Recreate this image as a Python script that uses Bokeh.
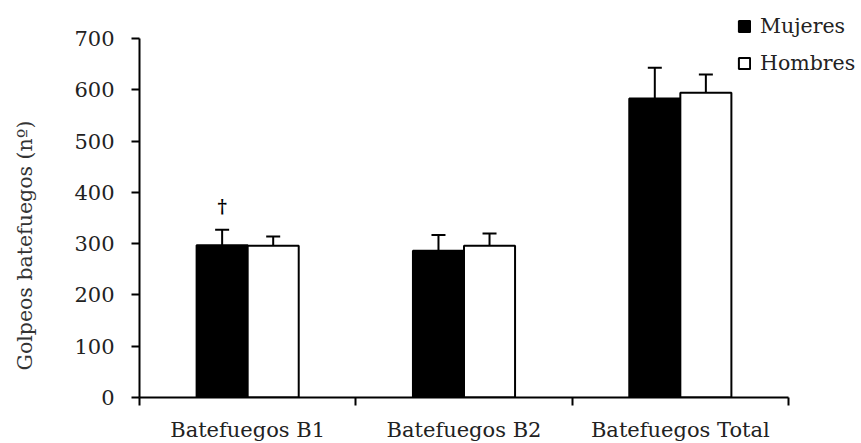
from bokeh.plotting import figure
from bokeh.models import ColumnDataSource, FixedTicker, Whisker, TeeHead, Legend, LegendItem, Range1d, Title
from bokeh.core.properties import value
from bokeh.embed import file_html
from bokeh.resources import INLINE

categories = ["Batefuegos B1", "Batefuegos B2", "Batefuegos Total"]
mujeres = [297, 286, 583]
mujeres_err = [30, 31, 60]
hombres = [296, 296, 594]
hombres_err = [18, 24, 36]
marks = ["†", "", ""]
y_ticks = [0, 100, 200, 300, 400, 500, 600, 700]
y_label = "Golpeos batefuegos (nº)"

SERIF = "DejaVu Serif"

idx = list(range(len(categories)))
off = 0.118
w = 0.236
xm = [i + 0.5 - off for i in idx]
xh = [i + 0.5 + off for i in idx]

src_m = ColumnDataSource(dict(x=xm, top=mujeres, up=[v + e for v, e in zip(mujeres, mujeres_err)], mark=marks))
src_h = ColumnDataSource(dict(x=xh, top=hombres, up=[v + e for v, e in zip(hombres, hombres_err)]))

# frame spans to the right and top edges so the legend can sit there; axes are bounded
FW, FH = 722, 397
x_end = 3 * FW / 649.0
y_end = 700 * FH / 359.0

p = figure(width=861, height=443, output_backend="svg", toolbar_location=None,
           x_range=Range1d(0, x_end), y_range=Range1d(0, y_end),
           min_border_left=139, min_border_right=0, min_border_top=0, min_border_bottom=46,
           frame_width=FW, frame_height=FH)
p.outline_line_color = None
p.grid.visible = False
p.background_fill_color = "white"
p.border_fill_color = "white"

rm = p.vbar(x="x", top="top", width=w, bottom=0, source=src_m, fill_color="black", line_color="black", line_width=2)
rh = p.vbar(x="x", top="top", width=w, bottom=0, source=src_h, fill_color="white", line_color="black", line_width=2)

for src in (src_m, src_h):
    wk = Whisker(base="x", upper="up", lower="top", source=src, dimension="height",
                 line_color="black", line_width=2,
                 upper_head=TeeHead(size=14, line_color="black", line_width=2), lower_head=None)
    p.add_layout(wk)

p.text(x="x", y="up", text="mark", source=src_m, text_align="center", text_baseline="bottom",
       y_offset=-13, text_font=value(SERIF), text_font_size="18px", text_font_style="bold", text_color="black")

# axes
xa = p.xaxis[0]
xa.bounds = (0, 3)
xa.ticker = FixedTicker(ticks=[i + 0.5 for i in idx], minor_ticks=[0, 1, 2, 3])
xa.major_label_overrides = {i + 0.5: c for i, c in zip(idx, categories)}
xa.major_tick_out = 0
xa.major_tick_in = 0
xa.minor_tick_out = 8
xa.minor_tick_in = 0
xa.minor_tick_line_width = 2
xa.minor_tick_line_color = "black"
xa.axis_line_width = 2
xa.axis_line_color = "black"
xa.major_label_text_font = SERIF
xa.major_label_text_font_size = "21px"
xa.major_label_text_color = "#222222"
xa.major_label_standoff = 12

ya = p.yaxis[0]
ya.bounds = (0, 700)
ya.ticker = FixedTicker(ticks=y_ticks, minor_ticks=[])
ya.major_tick_out = 8
ya.major_tick_in = 0
ya.major_tick_line_width = 2
ya.major_tick_line_color = "black"
ya.axis_line_width = 2
ya.axis_line_color = "black"
ya.major_label_text_font = SERIF
ya.major_label_text_font_size = "21px"
ya.major_label_text_color = "#222222"
ya.major_label_standoff = 17

# blank spacer panel between the tick labels and the y title
spacer = Title(text=" ", standoff=32, text_font_size="1px")
p.add_layout(spacer, "left")

ytitle = Title(text=y_label, align="left", offset=27, standoff=0,
               text_font=SERIF, text_font_size="20.5px", text_font_style="normal", text_color="#333333")
p.add_layout(ytitle, "left")

legend = Legend(items=[LegendItem(label="Mujeres", renderers=[rm]), LegendItem(label="Hombres", renderers=[rh])],
                location=(598, 322), orientation="vertical",
                label_text_font=SERIF, label_text_font_size="20.5px", label_text_color="#222222",
                glyph_width=14, glyph_height=14, spacing=13, padding=2, margin=0,
                label_standoff=9, border_line_color=None, background_fill_alpha=0)
p.add_layout(legend)

open("out.html", "w").write(file_html(p, INLINE))
